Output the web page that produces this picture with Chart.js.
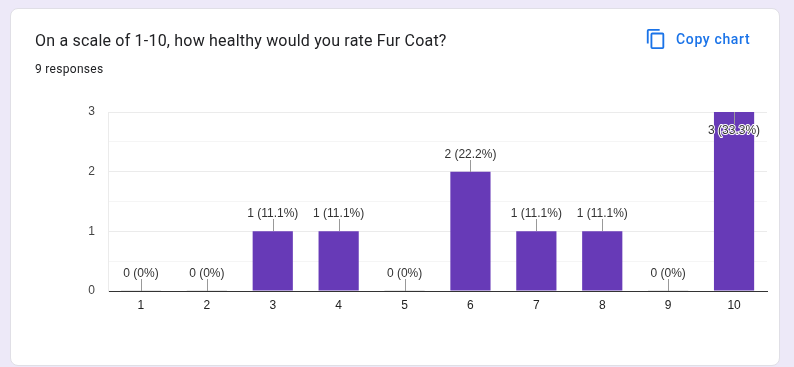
<!DOCTYPE html>
<html>
<head>
<meta charset="utf-8">
<script src="https://cdn.jsdelivr.net/npm/chart.js@4"></script>
<style>
  html, body { margin: 0; padding: 0; width: 794px; height: 367px; overflow: hidden; background: #ede9f8; }
  #card { position: absolute; left: 10px; top: 8px; width: 768px; height: 356px; background: #fff; border: 1px solid #e0dfe6; border-radius: 8px; }
  #chart { position: absolute; left: 0; top: 0; }
  .title { position: absolute; left: 35px; top: 31px; font: 400 16px Roboto, sans-serif; color: #202124; letter-spacing: 0.2px; white-space: nowrap; }
  .sub { position: absolute; left: 35px; top: 62px; font: 400 12px Roboto, sans-serif; color: #202124; letter-spacing: 0.3px; white-space: nowrap; }
  .copy { position: absolute; left: 676px; top: 31px; font: 500 14px Roboto, sans-serif; color: #1a73e8; letter-spacing: 0.65px; white-space: nowrap; }
  svg { position: absolute; left: 645px; top: 28px; }
</style>
</head>
<body>
<div id="card"></div>
<canvas id="chart" width="794" height="367"></canvas>
<div class="title">On a scale of 1-10, how healthy would you rate Fur Coat?</div>
<div class="sub">9 responses</div>
<svg width="22" height="22" viewBox="0 0 24 24"><path fill="#1a73e8" d="M16 1H4a2 2 0 0 0-2 2v14h2V3h12V1zm3 4H8a2 2 0 0 0-2 2v14a2 2 0 0 0 2 2h11a2 2 0 0 0 2-2V7a2 2 0 0 0-2-2zm0 16H8V7h11v14z"/></svg>
<div class="copy">Copy chart</div>
<script>
const categories = ['1', '2', '3', '4', '5', '6', '7', '8', '9', '10'];
const counts = [0, 0, 1, 1, 0, 2, 1, 1, 0, 3];
const percents = ['0%', '0%', '11.1%', '11.1%', '0%', '22.2%', '11.1%', '11.1%', '0%', '33.3%'];

// leader lines and "n (p%)" labels, plus the faint stub for empty bars
const barLabels = {
  id: 'barLabels',
  afterDatasetsDraw(chart) {
    const c = chart.ctx;
    const bars = chart.getDatasetMeta(0).data;
    const top = chart.chartArea.top;
    c.save();
    c.font = '12px "Liberation Sans", Arial, sans-serif';
    c.textAlign = 'center';
    c.textBaseline = 'middle';
    bars.forEach((bar, i) => {
      const x = Math.round(bar.x) + 0.5;
      const y = Math.round(bar.y);
      const inside = y - 18 < top;  // no room above, label flips into the bar
      if (counts[i] === 0) {
        c.fillStyle = '#e6e6e6';
        c.fillRect(bar.x - bar.width / 2, y - 1, bar.width, 1);
      }
      c.strokeStyle = '#999';
      c.lineWidth = 1;
      c.beginPath();
      c.moveTo(x, y);
      c.lineTo(x, inside ? y + 12 : y - 12);
      c.stroke();
      const text = counts[i] + ' (' + percents[i] + ')';
      const ty = inside ? y + 19 : y - 17;
      c.strokeStyle = '#fff';
      c.lineWidth = 2;
      c.lineJoin = 'round';
      c.strokeText(text, bar.x, ty);
      c.fillStyle = '#333';
      c.fillText(text, bar.x, ty);
    });
    c.restore();
  }
};

new Chart(document.getElementById('chart'), {
  type: 'bar',
  data: {
    labels: categories,
    datasets: [{
      data: counts,
      backgroundColor: '#673ab7',
      borderWidth: 0,
      barPercentage: 1,
      categoryPercentage: 0.61
    }]
  },
  plugins: [barLabels],
  options: {
    responsive: false,
    animation: false,
    layout: { padding: { left: 0, top: 112, right: 27, bottom: 0 } },
    plugins: { legend: { display: false }, tooltip: { enabled: false } },
    scales: {
      x: {
        afterFit(scale) { scale.height = 76; },
        grid: { display: false, drawTicks: false },
        border: { color: '#333', width: 1 },
        ticks: { color: '#222', padding: 7, maxRotation: 0, font: { family: '"Liberation Sans", Arial, sans-serif', size: 12 } }
      },
      y: {
        min: 0,
        max: 3,
        afterFit(scale) { scale.width = 108; },
        grid: {
          drawTicks: false,
          color: ctx => Number.isInteger(ctx.tick.value) ? '#ebebeb' : '#f5f5f5'
        },
        border: { color: '#ebebeb' },
        ticks: {
          stepSize: 0.5,
          padding: 13,
          color: '#444',
          font: { family: '"Liberation Sans", Arial, sans-serif', size: 12 },
          callback: v => Number.isInteger(v) ? v : ''
        }
      }
    }
  }
});
</script>
</body>
</html>
